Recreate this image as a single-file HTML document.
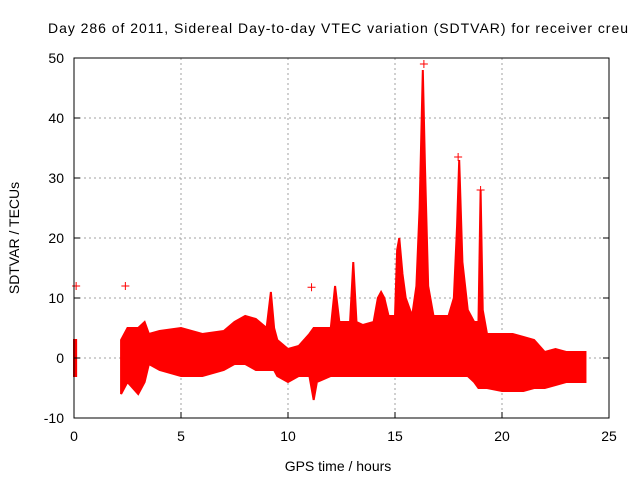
<!DOCTYPE html>
<html><head><meta charset="utf-8"><style>
body{margin:0;background:#fff}
svg{display:block;font-family:"Liberation Sans",sans-serif}
</style></head><body>
<svg id="c" width="640" height="480" xmlns="http://www.w3.org/2000/svg">
<text x="338" y="33" font-size="14" text-anchor="middle" textLength="580">Day 286 of 2011, Sidereal Day-to-day VTEC variation (SDTVAR) for receiver creu</text>
<text x="338" y="471" font-size="14" text-anchor="middle">GPS time / hours</text>
<text transform="translate(19,238) rotate(-90)" font-size="14" text-anchor="middle">SDTVAR / TECUs</text>
<g id="grid"></g><g id="data"></g><g id="axes"></g>
</svg>
<script>
const xTicks=[0,5,10,15,20,25];
const yTicks=[-10,0,10,20,30,40,50];
const hours=[2.2,2.5,3.0,3.3,3.5,4,5,6,7,7.5,8,8.5,9.0,9.2,9.35,9.5,10,10.5,11,11.2,11.35,12,12.2,12.4,12.9,13.05,13.2,13.5,14,14.2,14.35,14.5,14.7,15,15.1,15.2,15.35,15.5,15.8,16,16.15,16.3,16.4,16.55,16.8,17.5,17.75,17.9,18.0,18.15,18.4,18.7,18.9,19.0,19.1,19.3,20,20.5,21,21.5,22,22.5,23,23.9];
const upper=[3,5,5,6,4,4.5,5,4,4.5,6,7,6.5,5,11,5,3,1.5,2,4,5,5,5,12,6,6,16,6,5.5,6,10,11,10,7,7,18,20,14,10,7,12,25,48,32,12,7,7,10,22,33,16,8,6,6,28,8,4,4,4,3.5,3,1,1.5,1,1];
const lower=[-6,-4,-6,-4,-1,-2,-3,-3,-2,-1,-1,-2,-2,-2,-2,-3,-4,-3,-3,-7,-4,-3,-3,-3,-3,-3,-3,-3,-3,-3,-3,-3,-3,-3,-3,-3,-3,-3,-3,-3,-3,-3,-3,-3,-3,-3,-3,-3,-3,-3,-3,-4,-5,-5,-5,-5,-5.5,-5.5,-5.5,-5,-5,-4.5,-4,-4];
const startHours=[0,0.1];
const startUpper=[3,3];
const startLower=[-3,-3];
const outX=[0.1,2.4,11.1,16.35,17.95,19.0];
const outY=[12,12,11.8,49,33.5,28];
const L=74,R=609,T=58,B=418;
const sx=h=>L+(h-0)/25*(R-L);
const sy=v=>B-(v+10)/60*(B-T);
const NS="http://www.w3.org/2000/svg";
function mk(t,a,p){const e=document.createElementNS(NS,t);for(const k in a)e.setAttribute(k,a[k]);document.getElementById(p).appendChild(e);return e;}
xTicks.forEach(t=>{
 if(t>0&&t<25){const g=mk('line',{x1:sx(t),x2:sx(t),y1:T,y2:B,stroke:'#a0a0a0','stroke-dasharray':'2,3'},'grid');
 
 }
 const tk=mk('line',{x1:sx(t),x2:sx(t),y1:B,y2:B-6,stroke:'#000'},'axes');
 
 
 const tx=mk('text',{x:sx(t),y:B+23,'font-size':14,'text-anchor':'middle'},'axes');tx.textContent=t;
 
 
});
yTicks.forEach(t=>{
 if(t>-10&&t<50){const g=mk('line',{x1:L,x2:R,y1:sy(t),y2:sy(t),stroke:'#a0a0a0','stroke-dasharray':'2,3'},'grid');
 
 }
 const tk=mk('line',{x1:L,x2:L+6,y1:sy(t),y2:sy(t),stroke:'#000'},'axes');
 
 
 const tk2=mk('line',{x1:R,x2:R-6,y1:sy(t),y2:sy(t),stroke:'#000'},'axes');
 
 
 const tx=mk('text',{x:L-10,y:sy(t)+5,'font-size':14,'text-anchor':'end'},'axes');tx.textContent=t;
 
 
});
const fr=mk('rect',{x:L,y:T,width:R-L,height:B-T,fill:'none',stroke:'#000'},'axes');


function band(hs,us,ls,name){
 let d='M'+hs.map((h,i)=>sx(h)+','+sy(us[i])).join('L');
 for(let i=hs.length-1;i>=0;i--)d+='L'+sx(hs[i])+','+sy(ls[i]);
 const p=mk('path',{d:d+'Z',fill:'#ff0000',stroke:'#ff0000','stroke-width':2},'data');
 
 
}
band(startHours,startUpper,startLower,'sdtvar-band-start');
band(hours,upper,lower,'sdtvar-band');
outX.forEach((h,i)=>{
 const p=mk('path',{d:`M${sx(h)-4},${sy(outY[i])}h8M${sx(h)},${sy(outY[i])-4}v8`,stroke:'#ff0000','stroke-width':1},'data');
 
 
});
</script>
</body></html>
